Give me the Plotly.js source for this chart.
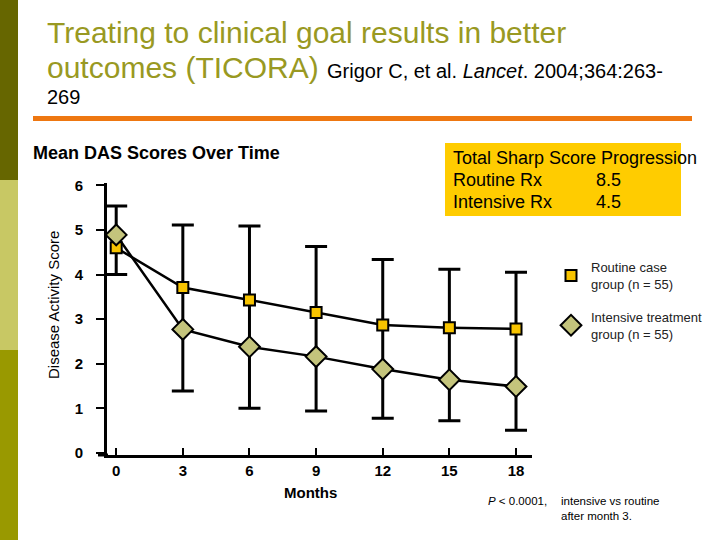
<!DOCTYPE html>
<html>
<head>
<meta charset="utf-8">
<script src="https://cdn.plot.ly/plotly-3.0.1.min.js"></script>
<style>html,body{margin:0;padding:0;background:#fff;}#chart{width:720px;height:540px;}</style>
</head>
<body>
<div id="chart"></div>
<script>
// ---- data ----
var months = [0, 3, 6, 9, 12, 15, 18];
var routineMean = [4.60, 3.71, 3.43, 3.15, 2.87, 2.81, 2.78];
var intensiveMean = [4.89, 2.77, 2.38, 2.16, 1.88, 1.64, 1.49];
var routineErrUp = [0.94, 1.40, 1.66, 1.48, 1.47, 1.31, 1.27];
var intensiveErrDown = [0.89, 1.38, 1.38, 1.22, 1.10, 0.92, 0.98];
var yTicks = [0, 1, 2, 3, 4, 5, 6];
var routineName = "Routine case<br>group (n = 55)";
var intensiveName = "Intensive treatment<br>group (n = 55)";

// ---- layout helpers (pixel -> paper) ----
var L = 107, R = 532, T = 183, B = 455;
var W = R - L, H = B - T;
function px(x) { return (x - L) / W; }
function py(y) { return (B - y) / H; }

var errTop = routineMean.map(function (v, i) { return v + routineErrUp[i]; });
var errBottom = intensiveMean.map(function (v, i) { return v - intensiveErrDown[i]; });
var errSpan = errTop.map(function (v, i) { return v - errBottom[i]; });
var zeros = months.map(function () { return 0; });

var FONT = "Liberation Sans, Arial, sans-serif";

var traces = [
  {
    x: months, y: errBottom, type: "scatter", mode: "markers",
    marker: { size: 1, color: "rgba(0,0,0,0)" },
    error_y: { type: "data", symmetric: false, array: errSpan, arrayminus: zeros,
               color: "#000", thickness: 3, width: 11 },
    showlegend: false, hoverinfo: "skip"
  },
  {
    x: months, y: routineMean, type: "scatter", mode: "lines",
    line: { color: "#000", width: 2.5 }, showlegend: false, hoverinfo: "skip"
  },
  {
    x: months, y: intensiveMean, type: "scatter", mode: "lines",
    line: { color: "#000", width: 2.5 }, showlegend: false, hoverinfo: "skip"
  },
  {
    x: months, y: routineMean, type: "scatter", mode: "markers", name: routineName,
    legendgroup: "a",
    marker: { symbol: "square", size: 11, color: "#F8C400", line: { color: "#000", width: 2 } }
  },
  {
    x: months, y: intensiveMean, type: "scatter", mode: "markers", name: intensiveName,
    legendgroup: "b",
    marker: { symbol: "diamond", size: 16, color: "#C4C47C", line: { color: "#000", width: 2 } }
  }
];

var shapes = [
  { type: "rect", xref: "paper", yref: "paper", x0: px(0), x1: px(18), y0: py(0), y1: py(180), fillcolor: "#666600", line: { width: 0 }, layer: "below" },
  { type: "rect", xref: "paper", yref: "paper", x0: px(0), x1: px(18), y0: py(180), y1: py(350), fillcolor: "#C8C864", line: { width: 0 }, layer: "below" },
  { type: "rect", xref: "paper", yref: "paper", x0: px(0), x1: px(18), y0: py(350), y1: py(540), fillcolor: "#999900", line: { width: 0 }, layer: "below" },
  { type: "rect", xref: "paper", yref: "paper", x0: px(33), x1: px(692), y0: py(116), y1: py(121), fillcolor: "#EE7711", line: { width: 0 } },
  { type: "rect", xref: "paper", yref: "paper", x0: px(445), x1: px(681), y0: py(143), y1: py(216), fillcolor: "#FFCC00", line: { width: 0 }, layer: "below" },
  { type: "line", xref: "paper", yref: "paper", x0: px(98), x1: px(108), y0: 0, y1: 0, line: { color: "#000", width: 3 } }
];

function ann(text, x, y, size, opts) {
  var a = { text: text, xref: "paper", yref: "paper", x: px(x), y: py(y),
            xanchor: "left", yanchor: "middle", align: "left", showarrow: false,
            font: { family: FONT, size: size, color: "#000" } };
  for (var k in (opts || {})) a[k] = opts[k];
  return a;
}

var annotations = [
  ann("Treating to clinical goal results in better", 45, 32, 30, { font: { family: FONT, size: 30, color: "#999922" } }),
  ann("outcomes (TICORA) <span style='font-size:20px;color:#000'>Grigor C, et al. <i>Lancet</i>. 2004;364:263-</span>", 45, 68, 30, { font: { family: FONT, size: 30, color: "#999922" } }),
  ann("269", 45, 97, 20),
  ann("<b>Mean DAS Scores Over Time</b>", 31, 153, 18),
  ann("Total Sharp Score Progression", 451, 158, 18),
  ann("Routine Rx", 451, 180, 18),
  ann("8.5", 594, 180, 18),
  ann("Intensive Rx", 451, 202, 18),
  ann("4.5", 594, 202, 18),
  ann("Disease Activity Score", 53, 305, 15, { textangle: -90, xanchor: "center" }),
  ann("<b>Months</b>", 310, 492, 15, { xanchor: "center" }),
  ann("<i>P</i> &lt; 0.0001,", 486, 501, 11.5),
  ann("intensive vs routine<br>after month 3.", 559, 508, 11.5)
];

var layout = {
  width: 720, height: 540,
  margin: { l: L, r: 720 - R, t: T, b: 540 - B, pad: 0 },
  paper_bgcolor: "#fff", plot_bgcolor: "#fff",
  font: { family: FONT, color: "#000" },
  showlegend: true,
  legend: { x: px(551), y: py(252), xanchor: "left", yanchor: "top",
            font: { family: FONT, size: 13, color: "#222" },
            traceorder: "grouped", tracegroupgap: 13, bgcolor: "rgba(0,0,0,0)" },
  xaxis: {
    range: [-0.414, 18.72], tickvals: months, ticktext: months.map(String),
    showgrid: false, zeroline: false, showline: true, linecolor: "#000", linewidth: 3,
    ticks: "inside", ticklen: 7, tickwidth: 2, tickcolor: "#000",
    tickfont: { family: FONT, size: 15, color: "#000", weight: "bold" },
    fixedrange: true
  },
  yaxis: {
    range: [-0.047, 6.054], tickvals: yTicks, ticktext: yTicks.map(String),
    showgrid: false, zeroline: false, showline: true, linecolor: "#000", linewidth: 3,
    ticks: "outside", ticklen: 8, tickwidth: 2, tickcolor: "#000",
    tickfont: { family: FONT, size: 15, color: "#000", weight: "bold" },
    ticklabelstandoff: 10,
    fixedrange: true
  },
  shapes: shapes,
  annotations: annotations
};

Plotly.newPlot("chart", traces, layout, { displayModeBar: false, staticPlot: true });
</script>
</body>
</html>
